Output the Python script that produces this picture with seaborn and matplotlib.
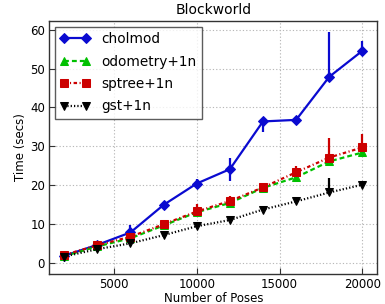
import numpy as np
import pandas as pd
import matplotlib
matplotlib.use("Agg")
import matplotlib.pyplot as plt
import seaborn as sns

# Blockworld timings (secs) vs number of poses
poses = [2000, 4000, 6000, 8000, 10000, 12000, 14000, 16000, 18000, 20000]

cholmod = [1.8, 4.6, 7.8, 14.9, 20.4, 24.1, 36.4, 36.8, 47.9, 54.6]
cholmod_lo = [0.3, 0.3, 0.5, 0.3, 0.8, 3.0, 2.6, 0.3, 0.5, 0.5]
cholmod_hi = [0.3, 0.5, 1.9, 0.3, 1.2, 3.0, 0.3, 0.3, 11.6, 2.4]

odometry = [1.7, 4.2, 6.3, 9.6, 13.0, 15.4, 19.3, 22.0, 26.1, 28.4]
odometry_lo = [0.2, 0.2, 0.3, 0.3, 0.3, 0.3, 0.3, 0.3, 0.4, 0.4]
odometry_hi = [0.2, 0.2, 0.3, 0.3, 0.3, 0.3, 0.3, 0.3, 0.4, 0.6]

sptree = [2.0, 4.5, 6.7, 9.9, 13.2, 15.9, 19.4, 23.3, 27.1, 29.7]
sptree_lo = [0.3, 0.3, 0.4, 0.4, 0.5, 0.8, 0.3, 0.5, 0.5, 0.5]
sptree_hi = [0.3, 0.3, 0.6, 0.8, 2.0, 1.3, 0.3, 1.7, 5.0, 3.5]

gst = [1.6, 3.5, 5.0, 7.1, 9.4, 11.0, 13.7, 15.8, 18.1, 20.1]
gst_lo = [0.2, 0.2, 0.2, 0.2, 0.2, 0.2, 0.2, 0.2, 0.3, 0.3]
gst_hi = [0.2, 0.2, 0.3, 0.3, 0.3, 0.3, 0.3, 0.3, 3.7, 0.4]

sns.set_style("whitegrid", {"grid.linestyle": ":", "grid.color": "#b8b8b8",
                            "axes.edgecolor": "#333333", "xtick.direction": "in",
                            "ytick.direction": "in", "xtick.bottom": True,
                            "ytick.left": True, "text.color": "black",
                            "xtick.color": "black", "ytick.color": "black",
                            "axes.labelcolor": "black"})
plt.rcParams["font.family"] = ["DejaVu Sans"]
# older matplotlib-like short dash patterns
plt.rcParams["lines.scale_dashes"] = False
plt.rcParams["lines.dashed_pattern"] = [3.5, 2.2]
plt.rcParams["lines.dashdot_pattern"] = [2.5, 1.8, 0.8, 1.8]
plt.rcParams["lines.dotted_pattern"] = [0.9, 1.5]

fig, ax = plt.subplots(figsize=(3.85, 3.04), dpi=100)

series = [
    ("cholmod", cholmod, cholmod_lo, cholmod_hi, "#0a0ad0", "D", "-", 5.5),
    ("odometry+1n", odometry, odometry_lo, odometry_hi, "#00c000", "^", "--", 6),
    ("sptree+1n", sptree, sptree_lo, sptree_hi, "#cc0000", "s", "-.", 5.5),
    ("gst+1n", gst, gst_lo, gst_hi, "black", "v", ":", 6),
]

for name, vals, lo, hi, col, mk, ls, ms in series:
    df = pd.DataFrame({"poses": poses, "time": vals})
    ax.errorbar(df["poses"], df["time"], yerr=[lo, hi], fmt="none",
                ecolor=col, elinewidth=1.6, capsize=0, zorder=2)
    sns.lineplot(data=df, x="poses", y="time", ax=ax, color=col, marker=mk,
                 linestyle=ls, linewidth=1.6, markersize=ms,
                 markeredgecolor=col, errorbar=None, label=name, zorder=3)

ax.set_xlim(1100, 20900)
ax.set_ylim(-2.8, 62.2)
ax.set_xticks([5000, 10000, 15000, 20000])
ax.set_yticks([0, 10, 20, 30, 40, 50, 60])
ax.set_title("Blockworld", fontsize=10, pad=5)
ax.set_xlabel("Number of Poses", fontsize=8.5, labelpad=1)
ax.set_ylabel("Time (secs)", fontsize=8.5, labelpad=2)
ax.tick_params(labelsize=8.5, length=4, color="#333333", pad=3)
for s in ax.spines.values():
    s.set_linewidth(1)

leg = ax.legend(loc="upper left", numpoints=2, fontsize=9.8, frameon=True,
                fancybox=False, edgecolor="#333333", handlelength=2.2,
                borderaxespad=0.4, labelspacing=0.62)
leg.get_frame().set_linewidth(1)

fig.subplots_adjust(left=0.128, right=0.98, top=0.93, bottom=0.1)
fig.savefig("out.png", dpi=100)
